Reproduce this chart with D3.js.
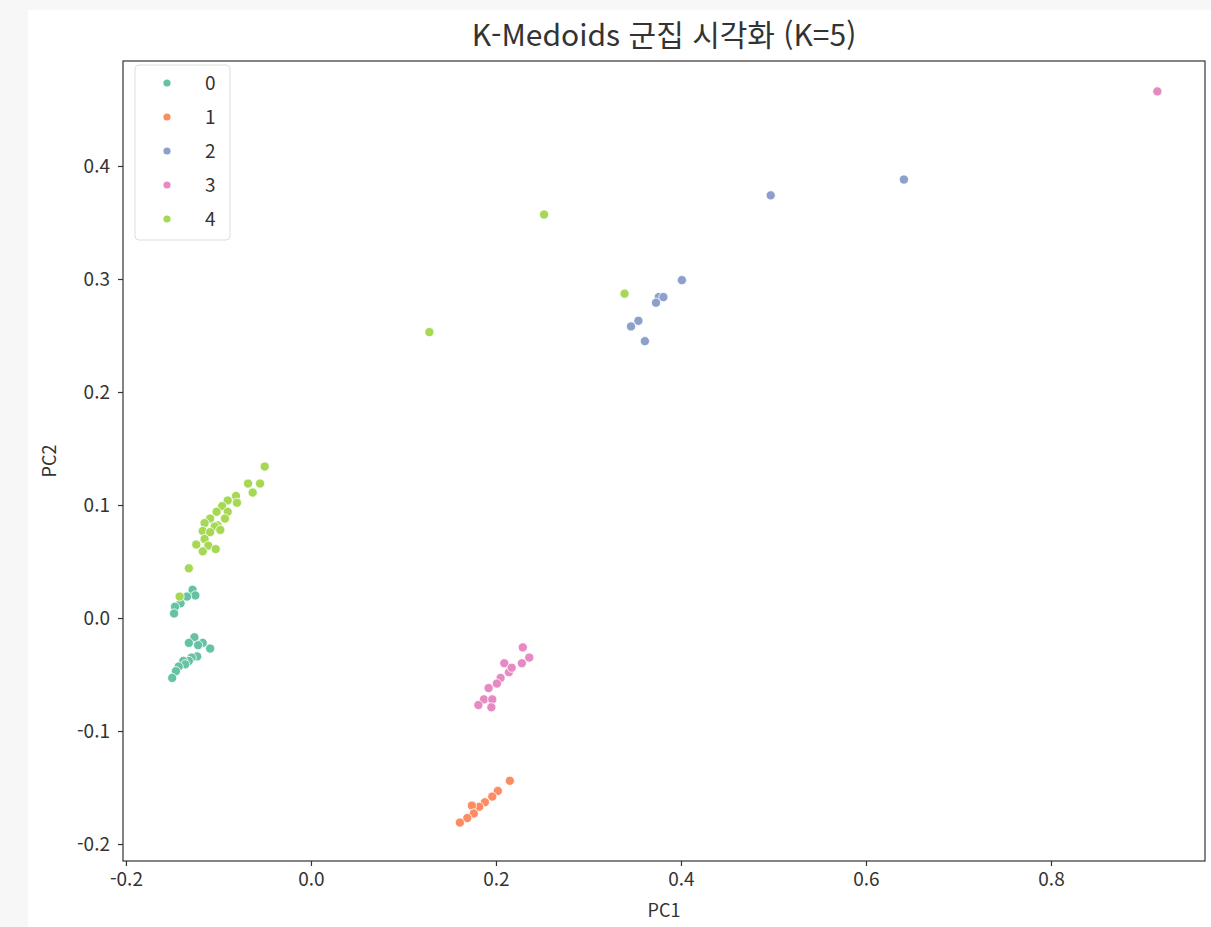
<!DOCTYPE html>
<html lang="ko">
<head>
<meta charset="UTF-8">
<title>K-Medoids</title>
<style>
  body { margin: 0; background: #f7f7f7; }
  svg { display: block; }
  text { font-family: "Noto Sans CJK KR", "Noto Sans", sans-serif; fill: #333; }
</style>
</head>
<body>
<svg id="chart"></svg>
<script src="https://d3js.org/d3.v7.min.js"></script>
<script>
// cluster labels and colours (seaborn Set2)
var clusters = ['0', '1', '2', '3', '4'];
var colors = ['#66c2a5', '#fc8d62', '#8da0cb', '#e78ac3', '#a6d854'];

// PC1 / PC2 values per cluster
var c0x = [-0.128, -0.125, -0.134, -0.141, -0.147, -0.148, -0.126, -0.132, -0.117, -0.122, -0.109, -0.123, -0.129, -0.132, -0.138, -0.136, -0.143, -0.146, -0.150];
var c0y = [0.025, 0.020, 0.019, 0.013, 0.010, 0.004, -0.017, -0.022, -0.022, -0.024, -0.027, -0.034, -0.035, -0.038, -0.038, -0.041, -0.043, -0.047, -0.053];
var c1x = [0.215, 0.202, 0.196, 0.188, 0.182, 0.174, 0.176, 0.169, 0.161];
var c1y = [-0.144, -0.153, -0.158, -0.163, -0.167, -0.166, -0.173, -0.177, -0.181];
var c2x = [0.497, 0.641, 0.401, 0.376, 0.381, 0.373, 0.354, 0.346, 0.361];
var c2y = [0.374, 0.388, 0.299, 0.284, 0.284, 0.279, 0.263, 0.258, 0.245];
var c3x = [0.915, 0.229, 0.236, 0.209, 0.228, 0.214, 0.217, 0.205, 0.201, 0.192, 0.187, 0.196, 0.181, 0.195];
var c3y = [0.466, -0.026, -0.035, -0.040, -0.040, -0.048, -0.044, -0.053, -0.058, -0.062, -0.072, -0.072, -0.077, -0.079];
var c4x = [0.252, 0.339, 0.128, -0.142, -0.050, -0.068, -0.055, -0.063, -0.081, -0.090, -0.080, -0.096, -0.102, -0.090, -0.109, -0.093, -0.115, -0.101, -0.104, -0.117, -0.109, -0.098, -0.115, -0.124, -0.111, -0.117, -0.103, -0.132];
var c4y = [0.357, 0.287, 0.253, 0.019, 0.134, 0.119, 0.119, 0.111, 0.108, 0.104, 0.102, 0.099, 0.094, 0.094, 0.088, 0.088, 0.084, 0.082, 0.081, 0.077, 0.076, 0.078, 0.070, 0.065, 0.064, 0.059, 0.061, 0.044];

var xTicks = [-0.2, 0.0, 0.2, 0.4, 0.6, 0.8];
var yTicks = [-0.2, -0.1, 0.0, 0.1, 0.2, 0.3, 0.4];

var width = 1211, height = 927;
var margin = {top: 61, right: 6, bottom: 66, left: 123};

var svg = d3.select('#chart').attr('width', width).attr('height', height);

// white figure area
svg.append('rect').attr('x', 28).attr('y', 10).attr('width', width - 28).attr('height', height - 10).attr('fill', '#fff');

var x = d3.scaleLinear().domain([-0.2032, 0.9665]).range([margin.left, width - margin.right]);
var y = d3.scaleLinear().domain([-0.215, 0.4929]).range([height - margin.bottom, margin.top]);

var xs = [c0x, c1x, c2x, c3x, c4x];
var ys = [c0y, c1y, c2y, c3y, c4y];
var points = [];
xs.forEach(function (arr, k) {
    arr.forEach(function (v, i) {
        points.push({x: v, y: ys[k][i], c: k});
    });
});

svg.selectAll('circle.pt').data(points).enter().append('circle')
    .attr('class', 'pt')
    .attr('cx', d => x(d.x))
    .attr('cy', d => y(d.y))
    .attr('r', 4.6)
    .attr('fill', d => colors[d.c])
    .attr('stroke', '#fff')
    .attr('stroke-width', 0.8);

// axes
var fmt = d => d3.format('.1f')(d).replace('−', '-');
var xAxis = svg.append('g')
    .attr('transform', 'translate(0,' + (height - margin.bottom) + ')')
    .call(d3.axisBottom(x).tickValues(xTicks).tickFormat(fmt).tickSize(5).tickPadding(7));
var yAxis = svg.append('g')
    .attr('transform', 'translate(' + margin.left + ',0)')
    .call(d3.axisLeft(y).tickValues(yTicks).tickFormat(fmt).tickSize(5).tickPadding(8));
xAxis.selectAll('text').style('font-size', '19px').attr('fill', '#333');
yAxis.selectAll('text').style('font-size', '19px').attr('fill', '#333');
xAxis.select('.domain').remove();
yAxis.select('.domain').remove();
svg.selectAll('.tick line').attr('stroke', '#333').attr('stroke-width', 1.2);

// frame
svg.append('rect')
    .attr('x', margin.left).attr('y', margin.top)
    .attr('width', width - margin.right - margin.left)
    .attr('height', height - margin.bottom - margin.top)
    .attr('fill', 'none').attr('stroke', '#333').attr('stroke-width', 1.2);

svg.append('text').attr('x', 664).attr('y', 46).attr('text-anchor', 'middle')
    .style('font-size', '30px').text('K-Medoids 군집 시각화 (K=5)');
svg.append('text').attr('x', (margin.left + width - margin.right) / 2).attr('y', 917).attr('text-anchor', 'middle')
    .style('font-size', '18px').text('PC1');
svg.append('text').attr('transform', 'translate(56,' + ((margin.top + height - margin.bottom) / 2) + ') rotate(-90)')
    .attr('text-anchor', 'middle').style('font-size', '18px').text('PC2');

// legend
var lg = svg.append('g').attr('transform', 'translate(135,65)');
lg.append('rect').attr('width', 95).attr('height', 175).attr('rx', 4)
    .attr('fill', '#fff').attr('fill-opacity', 0.8).attr('stroke', '#ddd');
clusters.forEach(function (c, i) {
    lg.append('circle').attr('cx', 32).attr('cy', 18 + i * 34).attr('r', 3.6).attr('fill', colors[i]);
    lg.append('text').attr('x', 70).attr('y', 18 + i * 34).attr('dy', '0.35em')
        .style('font-size', '19px').text(c);
});
</script>
</body>
</html>
